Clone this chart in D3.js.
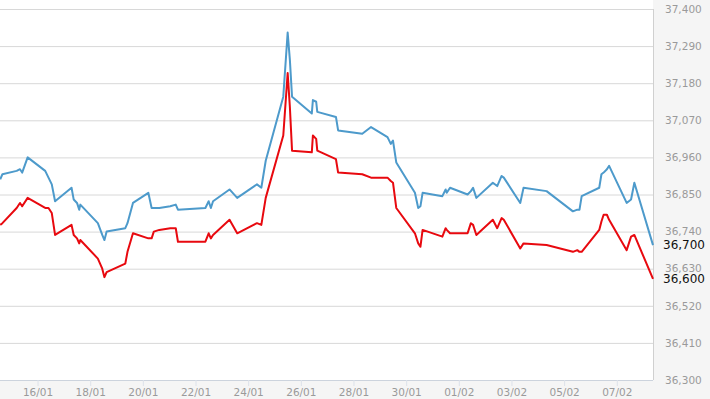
<!DOCTYPE html>
<html>
<head>
<meta charset="utf-8">
<script src="https://cdn.jsdelivr.net/npm/d3@7"></script>
<style>
  body { margin: 0; background: #f5f5f5; }
  svg { display: block; }
</style>
</head>
<body>
<div id="chart_div"></div>
<script>
// hourly quotes, sell (blue) and buy (red)
const times = [
  "2017-01-14 14:00", "2017-01-14 16:00", "2017-01-15 05:00", "2017-01-15 08:00", "2017-01-15 10:00",
  "2017-01-15 15:00", "2017-01-16 07:00", "2017-01-16 10:00", "2017-01-16 13:00", "2017-01-16 16:00",
  "2017-01-17 07:00", "2017-01-17 09:00", "2017-01-17 12:00", "2017-01-17 14:00", "2017-01-17 15:00",
  "2017-01-18 07:00", "2017-01-18 11:00", "2017-01-18 13:00", "2017-01-18 15:00", "2017-01-19 08:00",
  "2017-01-19 10:00", "2017-01-19 15:00", "2017-01-20 05:00", "2017-01-20 08:00", "2017-01-20 10:00",
  "2017-01-20 15:00", "2017-01-21 01:00", "2017-01-21 06:00", "2017-01-21 08:00", "2017-01-22 09:00",
  "2017-01-22 12:00", "2017-01-22 14:00", "2017-01-22 16:00", "2017-01-23 07:00", "2017-01-23 14:00",
  "2017-01-24 08:00", "2017-01-24 12:00", "2017-01-24 16:00", "2017-01-25 08:00", "2017-01-25 12:00",
  "2017-01-25 14:00", "2017-01-25 16:00", "2017-01-26 10:00", "2017-01-26 11:00", "2017-01-26 14:00",
  "2017-01-26 15:00", "2017-01-27 08:00", "2017-01-27 10:00", "2017-01-28 08:00", "2017-01-28 16:00",
  "2017-01-29 07:00", "2017-01-29 10:00", "2017-01-29 12:00", "2017-01-29 15:00", "2017-01-30 08:00",
  "2017-01-30 11:00", "2017-01-30 13:00", "2017-01-30 15:00", "2017-01-31 09:00", "2017-01-31 12:00",
  "2017-01-31 13:00", "2017-01-31 16:00", "2017-02-01 08:00", "2017-02-01 11:00", "2017-02-01 13:00",
  "2017-02-01 16:00", "2017-02-02 07:00", "2017-02-02 11:00", "2017-02-02 15:00", "2017-02-02 17:00",
  "2017-02-03 08:00", "2017-02-03 11:00", "2017-02-04 08:00", "2017-02-05 08:00", "2017-02-05 12:00",
  "2017-02-05 14:00", "2017-02-05 16:00", "2017-02-06 08:00", "2017-02-06 10:00", "2017-02-06 12:00",
  "2017-02-06 15:00", "2017-02-06 17:00", "2017-02-07 09:00", "2017-02-07 13:00", "2017-02-07 16:00",
  "2017-02-08 09:00"
];

const sellPrices = [
  36895, 36910, 36920, 36925, 36915,
  36960, 36920, 36900, 36880, 36830,
  36870, 36835, 36825, 36805, 36820,
  36765, 36730, 36715, 36740, 36750,
  36765, 36825, 36855, 36810, 36810,
  36810, 36815, 36820, 36805, 36810,
  36830, 36810, 36830, 36865, 36840,
  36880, 36870, 36950, 37140, 37330,
  37250, 37140, 37090, 37130, 37125,
  37095, 37080, 37040, 37030, 37050,
  37020, 37000, 37010, 36945, 36855,
  36810, 36815, 36855, 36845, 36865,
  36855, 36870, 36850, 36860, 36870,
  36840, 36885, 36875, 36905, 36900,
  36825, 36870, 36860, 36800, 36805,
  36805, 36845, 36870, 36910, 36915,
  36925, 36935, 36825, 36835, 36885,
  36700
];

const buyPrices = [
  36760, 36765, 36810, 36825, 36815,
  36840, 36810, 36810, 36795, 36730,
  36760, 36730, 36720, 36705, 36715,
  36660, 36630, 36605, 36620, 36645,
  36680, 36735, 36720, 36720, 36740,
  36745, 36750, 36750, 36710, 36710,
  36735, 36720, 36730, 36775, 36735,
  36765, 36760, 36840, 37025, 37210,
  37110, 36980, 36975, 37025, 37015,
  36980, 36955, 36915, 36910, 36900,
  36900, 36890, 36885, 36810, 36735,
  36705, 36695, 36745, 36725, 36750,
  36745, 36735, 36735, 36765, 36760,
  36730, 36775, 36750, 36780, 36775,
  36690, 36705, 36700, 36680, 36685,
  36680, 36680, 36745, 36770, 36790,
  36790, 36775, 36685, 36725, 36730,
  36600
];

const xTickLabels = ["16/01", "18/01", "20/01", "22/01", "24/01", "26/01",
                     "28/01", "30/01", "01/02", "03/02", "05/02", "07/02"];
const yTicks = [36300, 36410, 36520, 36630, 36740, 36850, 36960, 37070, 37180, 37290, 37400];

const width = 710;
const height = 399;
const plotRight = 653;
const plotTop = 9;
const plotBottom = 380;

const parseTime = d3.timeParse("%Y-%m-%d %H:%M");
const parseTick = d3.timeParse("%d/%m/%Y");

const sellData = times.map((t, i) => ({date: parseTime(t), value: sellPrices[i]}));
const buyData = times.map((t, i) => ({date: parseTime(t), value: buyPrices[i]}));

let xScale = d3.scaleTime()
    .domain([parseTime("2017-01-14 13:48"), parseTime("2017-02-08 09:00")])
    .range([0, plotRight]);

let yScale = d3.scaleLinear()
    .domain([36300, 37400])
    .range([plotBottom, plotTop]);

const fmt = d3.format(",");

const svg = d3.select("#chart_div")
    .append("svg")
    .attr("width", width)
    .attr("height", height)
    .style("font-family", "'DejaVu Sans', sans-serif");

svg.append("rect")
    .attr("width", width).attr("height", height)
    .attr("fill", "#f5f5f5");

svg.append("rect")
    .attr("x", 0).attr("y", 0)
    .attr("width", plotRight).attr("height", plotBottom)
    .attr("fill", "#ffffff");

// horizontal grid
svg.append("g")
    .selectAll("line")
    .data(yTicks)
    .join("line")
    .attr("x1", 0).attr("x2", plotRight)
    .attr("y1", d => yScale(d) + 0.5).attr("y2", d => yScale(d) + 0.5)
    .attr("stroke", "#d8d8d8")
    .attr("stroke-width", 1);

// right border of plot
svg.append("line")
    .attr("x1", plotRight + 0.5).attr("x2", plotRight + 0.5)
    .attr("y1", yScale(37400)).attr("y2", plotBottom)
    .attr("stroke", "#d0d0d0");

// y labels on the right
svg.append("g")
    .selectAll("text")
    .data(yTicks)
    .join("text")
    .attr("x", 665)
    .attr("y", d => yScale(d))
    .attr("dy", "0.36em")
    .attr("font-size", 10.5)
    .attr("fill", "#9a9a9a")
    .text(d => fmt(d));

// x axis
const tickDates = xTickLabels.map(s => parseTick(s + "/2017"));
const xAxis = svg.append("g")
    .attr("transform", "translate(0," + plotBottom + ")")
    .call(d3.axisBottom(xScale)
        .tickValues(tickDates)
        .tickSize(6)
        .tickPadding(3)
        .tickFormat(d3.timeFormat("%d/%m")));
xAxis.select(".domain")
    .attr("stroke", "#ccd3dd")
    .attr("d", "M0,0.5H" + plotRight);
xAxis.selectAll(".tick line").attr("stroke", "#dde2ea");
xAxis.selectAll(".tick text")
    .attr("fill", "#9a9a9a")
    .attr("font-size", 10.5)
    .attr("font-family", "'DejaVu Sans', sans-serif");

// price lines
const line = d3.line()
    .x(d => xScale(d.date))
    .y(d => yScale(d.value));

svg.append("path")
    .datum(buyData)
    .attr("fill", "none")
    .attr("stroke", "#e8090f")
    .attr("stroke-width", 2)
    .attr("stroke-linejoin", "round")
    .attr("d", line);

svg.append("path")
    .datum(sellData)
    .attr("fill", "none")
    .attr("stroke", "#4d9acb")
    .attr("stroke-width", 2)
    .attr("stroke-linejoin", "round")
    .attr("d", line);

// last values
const lastValues = [sellPrices[sellPrices.length - 1], buyPrices[buyPrices.length - 1]];
svg.append("g")
    .selectAll("text")
    .data(lastValues)
    .join("text")
    .attr("x", 663)
    .attr("y", d => yScale(d))
    .attr("dy", "0.36em")
    .attr("font-size", 12)
    .attr("fill", "#111111")
    .text(d => fmt(d));
</script>
</body>
</html>
